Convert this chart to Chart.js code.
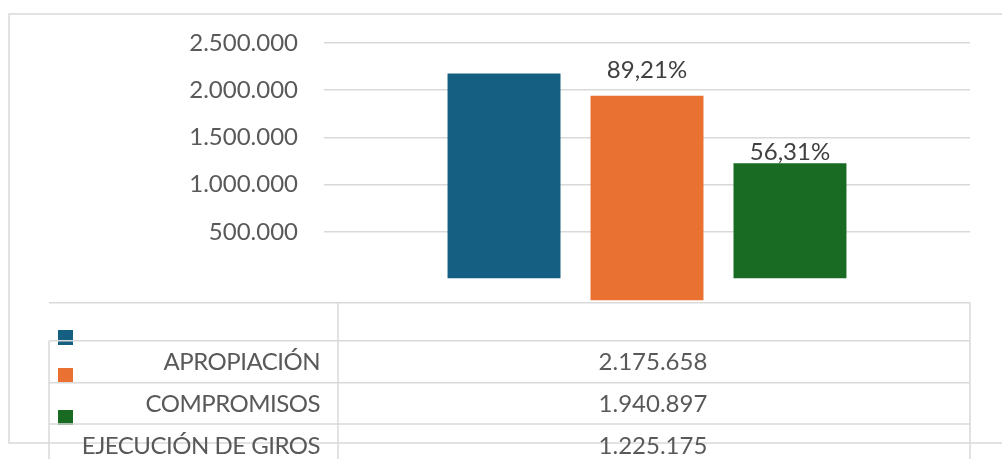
<!DOCTYPE html>
<html>
<head>
<meta charset="utf-8">
<script src="https://cdn.jsdelivr.net/npm/chart.js@4/dist/chart.umd.min.js"></script>
<style>
    body { margin: 0; background: #ffffff; }
    #wrap { width: 1002px; height: 459px; }
</style>
</head>
<body>
<div id="wrap"><canvas id="chart" width="1002" height="459"></canvas></div>
<script>
const categories = [''];
const seriesNames = ['APROPIACIÓN', 'COMPROMISOS', 'EJECUCIÓN DE GIROS'];
const seriesValues = [2175658, 1940897, 1225175];
const seriesColors = ['#156082', '#E97132', '#196B24'];
const yMax = 2500000;
const yStep = 500000;

const textColor = '#595959';
const lineColor = '#d9d9d9';
const fontName = 'Lato, "Open Sans", sans-serif';

function formatNumber(v) {
    return String(Math.round(v)).replace(/\B(?=(\d{3})+(?!\d))/g, '.');
}

function formatPercent(v, base) {
    return (v / base * 100).toFixed(2).replace('.', ',') + '%';
}

// excel-style data table + legend keys under the plot
const tablePlugin = {
    id: 'dataTable',
    beforeDraw: function (chart) {
        var ctx = chart.ctx;
        ctx.save();
        ctx.strokeStyle = lineColor;
        ctx.lineWidth = 1.5;
        ctx.strokeRect(9, 14, 1100, 429);
        ctx.restore();
    },
    afterDatasetsDraw: function (chart) {
        var ctx = chart.ctx;
        ctx.save();
        ctx.font = '24px ' + fontName;
        ctx.fillStyle = '#404040';
        ctx.textAlign = 'center';
        ctx.textBaseline = 'alphabetic';
        chart.data.datasets.forEach(function (ds, i) {
            if (i == 0) {
                return;
            }
            var bar = chart.getDatasetMeta(i).data[0];
            ctx.fillText(formatPercent(ds.data[0], seriesValues[0]), bar.x, bar.y - ds.labelGap);
        });
        ctx.restore();
    },
    afterDraw: function (chart) {
        var ctx = chart.ctx;
        var area = chart.chartArea;
        var left = 49, mid = 338, right = area.right;
        var rows = [302.7, 340.7, 382.7, 424];
        ctx.save();
        ctx.strokeStyle = lineColor;
        ctx.lineWidth = 1.5;
        ctx.beginPath();
        ctx.moveTo(left, rows[0]); ctx.lineTo(right, rows[0]);
        ctx.moveTo(left, rows[1]); ctx.lineTo(left, 459);
        ctx.moveTo(mid, rows[0]); ctx.lineTo(mid, 459);
        ctx.moveTo(right, rows[0]); ctx.lineTo(right, 459);
        ctx.stroke();

        // legend keys sit a bit above each row
        chart.data.datasets.forEach(function (ds, i) {
            ctx.fillStyle = ds.backgroundColor;
            ctx.fillRect(58, rows[i] + 27.3, 15, 15);
        });
        ctx.beginPath();
        for (var r = 1; r < rows.length; r++) {
            ctx.moveTo(left, rows[r]); ctx.lineTo(right, rows[r]);
        }
        ctx.stroke();

        ctx.font = '24px ' + fontName;
        ctx.fillStyle = textColor;
        ctx.textBaseline = 'middle';
        var xCenter = (area.left + area.right) / 2 + 6;
        seriesNames.forEach(function (name, i) {
            var y = rows[i + 1] + 22;
            ctx.letterSpacing = '-0.5px';
            ctx.textAlign = 'right';
            ctx.fillText(name, 320, y);
            ctx.letterSpacing = '0px';
            ctx.textAlign = 'center';
            ctx.fillText(formatNumber(seriesValues[i]), xCenter, y);
        });
        ctx.restore();
    }
};

const datasets = seriesNames.map(function (name, i) {
    return {
        label: name,
        data: [seriesValues[i]],
        backgroundColor: seriesColors[i],
        borderWidth: 0,
        barPercentage: 0.79,
        categoryPercentage: 0.664,
        clip: false,
        labelGap: i == 1 ? 18 : 3
    };
});
// the orange bar runs down into the table in the original picture
datasets[1].base = -226000;

new Chart(document.getElementById('chart'), {
    type: 'bar',
    data: {
        labels: categories,
        datasets: datasets
    },
    options: {
        responsive: false,
        animation: false,
        layout: {
            padding: { left: 0, top: 43, right: 32, bottom: 180 }
        },
        scales: {
            x: {
                display: false
            },
            y: {
                min: 0,
                max: yMax,
                afterFit: function (scale) {
                    scale.width = 324;
                },
                border: { display: false },
                grid: {
                    drawTicks: false,
                    lineWidth: 1.5,
                    color: function (c) {
                        return c.tick && c.tick.value == 0 ? 'rgba(0,0,0,0)' : lineColor;
                    }
                },
                ticks: {
                    stepSize: yStep,
                    padding: 26,
                    color: textColor,
                    font: { family: fontName, size: 24 },
                    callback: function (v) {
                        return v == 0 ? '' : formatNumber(v);
                    }
                }
            }
        },
        plugins: {
            legend: { display: false },
            tooltip: { enabled: false }
        }
    },
    plugins: [tablePlugin]
});
</script>
</body>
</html>
